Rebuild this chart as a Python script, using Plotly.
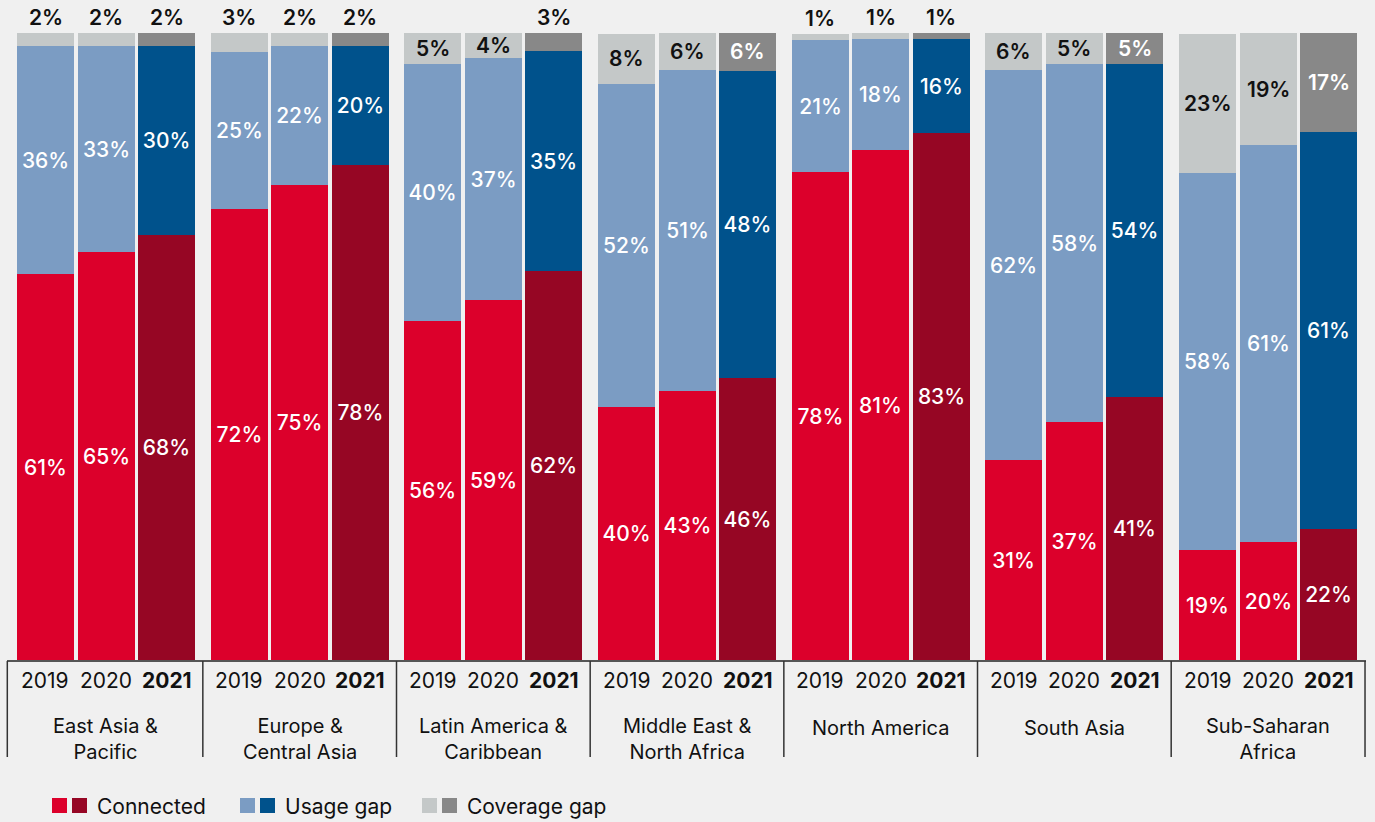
import plotly.graph_objects as go

# ---------------- data ----------------
REGIONS = [["East Asia &", "Pacific"], ["Europe &", "Central Asia"], ["Latin America &", "Caribbean"],
           ["Middle East &", "North Africa"], ["North America"], ["South Asia"], ["Sub-Saharan", "Africa"]]
YEARS = ["2019", "2020", "2021"]

# bar heights (% of population) as drawn, per region: [2019, 2020, 2021]
CONNECTED = [[61.5, 65.0, 67.8], [72.0, 75.7, 79.0], [54.0, 57.4, 62.0], [40.3, 42.9, 44.9],
             [77.9, 81.3, 84.0], [31.9, 37.9, 41.9], [17.5, 18.8, 20.9]]
USAGE_GAP = [[36.5, 33.0, 30.2], [24.9, 22.3, 19.0], [41.0, 38.6, 35.1], [51.6, 51.2, 49.1],
             [21.0, 17.7, 15.0], [62.2, 57.1, 53.1], [60.2, 63.3, 63.3]]
COVERAGE_GAP = [[2.0, 2.0, 2.0], [3.1, 2.0, 2.0], [5.0, 4.1, 2.9], [8.0, 6.0, 6.0],
                [1.0, 1.0, 1.0], [6.0, 5.0, 5.0], [22.2, 17.9, 15.9]]

# printed labels
CONNECTED_LBL = [[61, 65, 68], [72, 75, 78], [56, 59, 62], [40, 43, 46], [78, 81, 83], [31, 37, 41], [19, 20, 22]]
USAGE_LBL = [[36, 33, 30], [25, 22, 20], [40, 37, 35], [52, 51, 48], [21, 18, 16], [62, 58, 54], [58, 61, 61]]
COVERAGE_LBL = [[2, 2, 2], [3, 2, 2], [5, 4, 3], [8, 6, 6], [1, 1, 1], [6, 5, 5], [23, 19, 17]]

LEGEND = ["Connected", "Usage gap", "Coverage gap"]

# ---------------- style ----------------
FONT = "Inter"
BG = "#f0f0f0"
C_CONN = ["#dc002b", "#dc002b", "#960624"]
C_USAGE = ["#7b9cc3", "#7b9cc3", "#00528c"]
C_COV = ["#c4c8c8", "#c4c8c8", "#888888"]
COV_TXT = ["#111111", "#111111", "#ffffff"]

W, H = 1375, 822
PT, PB = 33, 660           # plot area top / bottom in px
X0, GROUP_W, BAR_PAD, BAR_PITCH, BAR_W = 8, 193.67, 9, 60.5, 57
FS = 21


def py2paper(py):
    return (PB - py) / (PB - PT)


xs, cols_c, cols_u, cols_v, txt_c, txt_u = [], [], [], [], [], []
conn, usage, cov = [], [], []
for g in range(len(REGIONS)):
    for j in range(3):
        xs.append(X0 + GROUP_W * g + BAR_PAD + BAR_PITCH * j + BAR_W / 2)
        conn.append(CONNECTED[g][j]); usage.append(USAGE_GAP[g][j]); cov.append(COVERAGE_GAP[g][j])
        cols_c.append(C_CONN[j]); cols_u.append(C_USAGE[j]); cols_v.append(C_COV[j])
        txt_c.append(f"{CONNECTED_LBL[g][j]}%"); txt_u.append(f"{USAGE_LBL[g][j]}%")

common = dict(width=BAR_W, textangle=0, insidetextanchor="middle", constraintext="none",
              cliponaxis=False, hoverinfo="skip", showlegend=False, marker_line_width=0)

fig = go.Figure()
fig.add_bar(x=xs, y=conn, marker_color=cols_c, text=txt_c, textposition="inside",
            insidetextfont=dict(family=FONT, size=FS, color="white", weight=500), **common)
fig.add_bar(x=xs, y=usage, marker_color=cols_u, text=txt_u, textposition="inside",
            insidetextfont=dict(family=FONT, size=FS, color="white", weight=500), **common)
fig.add_bar(x=xs, y=cov, marker_color=cols_v, textposition="none", **common)

shapes, annotations = [], []

# coverage-gap labels (inside the segment when it is tall enough, above the bar otherwise)
for g in range(len(REGIONS)):
    for j in range(3):
        xc = X0 + GROUP_W * g + BAR_PAD + BAR_PITCH * j + BAR_W / 2
        base = CONNECTED[g][j] + USAGE_GAP[g][j]
        top = base + COVERAGE_GAP[g][j]
        label = f"{COVERAGE_LBL[g][j]}%"
        if COVERAGE_GAP[g][j] > 3.5:
            annotations.append(dict(x=xc, y=(base + top) / 2, xref="x", yref="y", text=label,
                                    showarrow=False, xanchor="center", yanchor="middle",
                                    font=dict(family=FONT, size=FS, color=COV_TXT[j], weight=600)))
        else:
            annotations.append(dict(x=xc, y=top, xref="x", yref="y", text=label, yshift=1,
                                    showarrow=False, xanchor="center", yanchor="bottom",
                                    font=dict(family=FONT, size=FS, color="#111111", weight=600)))

# baseline
shapes.append(dict(type="line", xref="paper", yref="paper", x0=7 / W, x1=1366 / W,
                   y0=py2paper(661), y1=py2paper(661), line=dict(color="#222222", width=1.5)))
# separators
first_left = X0 + BAR_PAD
last_right = X0 + GROUP_W * (len(REGIONS) - 1) + BAR_PAD + BAR_PITCH * 2 + BAR_W
seps = [first_left - 9.7]
for g in range(len(REGIONS) - 1):
    r = X0 + GROUP_W * g + BAR_PAD + BAR_PITCH * 2 + BAR_W
    l = X0 + GROUP_W * (g + 1) + BAR_PAD
    seps.append((r + l) / 2)
seps.append(last_right + 8)
for sx in seps:
    shapes.append(dict(type="line", xref="paper", yref="paper", x0=sx / W, x1=sx / W,
                       y0=py2paper(661), y1=py2paper(757), line=dict(color="#333333", width=1.5)))

# year labels + region labels
for g, reg in enumerate(REGIONS):
    for j, yr in enumerate(YEARS):
        xc = X0 + GROUP_W * g + BAR_PAD + BAR_PITCH * j + BAR_W / 2
        annotations.append(dict(x=xc / W, y=py2paper(680), xref="paper", yref="paper", text=yr,
                                showarrow=False, xanchor="center", yanchor="middle",
                                font=dict(family=FONT, size=FS, color="#111111",
                                          weight=700 if j == 2 else 400)))
    gc = X0 + GROUP_W * g + BAR_PAD + BAR_PITCH + BAR_W / 2
    ymid = 728 + 21 * (len(reg) - 1) / 2
    annotations.append(dict(x=gc / W, y=py2paper(ymid), xref="paper", yref="paper",
                            text="<br>".join(reg), showarrow=False, xanchor="center", yanchor="middle",
                            align="center", font=dict(family=FONT, size=20, color="#111111")))

# legend
leg_x = [52, 240, 422]
leg_pairs = [C_CONN, C_USAGE, C_COV]
for lx, name, pal in zip(leg_x, LEGEND, leg_pairs):
    for k, c in enumerate([pal[0], pal[2]]):
        sx0 = lx + 20 * k
        shapes.append(dict(type="rect", xref="paper", yref="paper", x0=sx0 / W, x1=(sx0 + 15) / W,
                           y0=py2paper(813), y1=py2paper(798), fillcolor=c, line_width=0))
    annotations.append(dict(x=(lx + 43) / W, y=py2paper(806), xref="paper", yref="paper", text=name,
                            showarrow=False, xanchor="left", yanchor="middle",
                            font=dict(family=FONT, size=FS, color="#111111")))

fig.update_layout(
    width=W, height=H, barmode="stack", bargap=0,
    paper_bgcolor=BG, plot_bgcolor=BG,
    margin=dict(l=0, r=0, t=PT, b=H - PB, pad=0),
    xaxis=dict(range=[0, W], visible=False, fixedrange=True),
    yaxis=dict(range=[0, 100], visible=False, fixedrange=True),
    uniformtext=dict(minsize=FS, mode="show"),
    shapes=shapes, annotations=annotations,
    font=dict(family=FONT, size=FS, color="#111111"),
)

fig.write_html("out.html", config={"displayModeBar": False},
               post_script="document.body.style.margin='0';")
